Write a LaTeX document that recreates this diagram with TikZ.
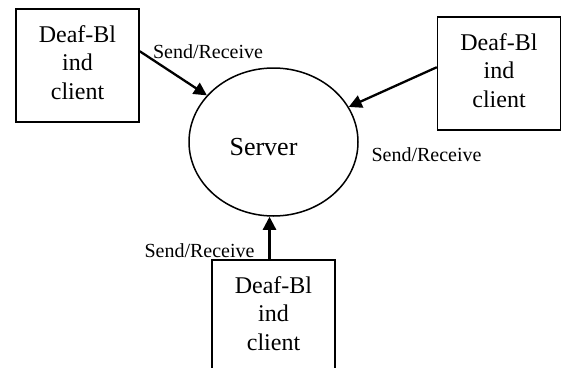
\documentclass[tikz,border=0pt]{standalone}
\usepackage{fontspec}
\setmainfont{Liberation Serif}
\usetikzlibrary{shapes.geometric,arrows.meta}
\tikzset{
  clientbox/.style={draw, line width=1.5pt, minimum width=123pt, minimum height=113pt, inner sep=0pt, align=center, text depth=6pt, font=\fontsize{24}{28.5}\selectfont},
  serverell/.style={draw, ellipse, line width=1.5pt, minimum width=169pt, minimum height=148pt, inner sep=0pt},
  arr/.style={line width=2.3pt, -{Triangle[length=13pt,width=13pt]}},
  lbl/.style={font=\fontsize{20}{24}\selectfont, anchor=base, inner sep=0pt},
}
\begin{document}
\begin{tikzpicture}[x=1pt,y=-1pt]
\useasboundingbox (0,0) rectangle (562,367);
\clip (0,0) rectangle (562,367);
\node[serverell] (server) at (273.5,142) {};
\node[font=\fontsize{26}{30}\selectfont, anchor=base, inner sep=0pt] (servertxt) at (263.5,155) {Server};
\node[clientbox] (lbox) at (77.5,65.5) {Deaf-Bl\\ind\\client};
\node[clientbox] (rbox) at (499,73.5) {Deaf-Bl\\ind\\client};
\node[clientbox] (bbox) at (273.5,316.5) {Deaf-Bl\\ind\\client};
\draw[arr] ([yshift=-43pt]lbox.north east) -- (server.145);
\draw[arr] ([yshift=-51pt]rbox.north west) -- (server.25);
\draw[arr] ([xshift=-4pt]bbox.north) -- ([xshift=-4pt]server.south);
\node[lbl] (l1) at (208,58) {Send/Receive};
\node[lbl] (l2) at (426.5,161) {Send/Receive};
\node[lbl] (l3) at (199.5,257) {Send/Receive};
\end{tikzpicture}
\end{document}
